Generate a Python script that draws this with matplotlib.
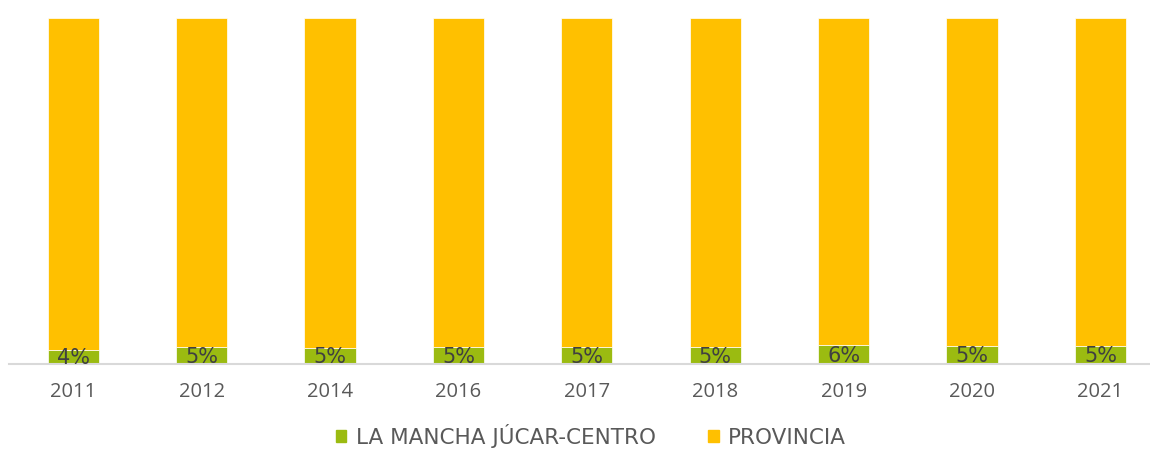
import matplotlib.pyplot as plt
from matplotlib.patches import Patch

years = ["2011", "2012", "2014", "2016", "2017", "2018", "2019", "2020", "2021"]
# share of the total (%)
mancha = [4.1, 4.8, 4.5, 4.9, 4.8, 4.8, 5.5, 5.1, 5.1]
mancha_labels = ["4%", "5%", "5%", "5%", "5%", "5%", "6%", "5%", "5%"]
provincia = [100 - v for v in mancha]

green = "#9BBB11"
yellow = "#FFC000"

plt.rcParams["font.family"] = ["Open Sans", "DejaVu Sans"]

fig = plt.figure(figsize=(11.5, 4.5), dpi=100)
ax = fig.add_axes([9 / 1150, 1 - 364 / 450, 1141 / 1150, 346 / 450])

x = list(range(len(years)))
ax.bar(x, mancha, width=0.4, color=green, edgecolor="white", linewidth=0.5)
ax.bar(x, provincia, width=0.4, bottom=mancha, color=yellow, edgecolor="white", linewidth=0.5)

for i in x:
    ax.text(i, mancha[i] / 2 - 0.3, mancha_labels[i], ha="center", va="center",
            fontsize=15, color="#404040", family="DejaVu Sans")

ax.set_xlim(-0.5, -0.5 + 1141 / 128.4)
ax.set_ylim(0, 100)
ax.set_xticks(x)
ax.set_xticklabels(years, fontsize=14.5, color="#595959")
ax.tick_params(axis="x", length=0, pad=13)
ax.set_yticks([])
for s in ["top", "right", "left"]:
    ax.spines[s].set_visible(False)
ax.spines["bottom"].set_color("#D9D9D9")
ax.spines["bottom"].set_linewidth(1.5)

handles = [Patch(color=green, label="LA MANCHA JÚCAR-CENTRO"),
           Patch(color=yellow, label="PROVINCIA")]
fig.legend(handles=handles, loc="center", bbox_to_anchor=(591 / 1150, 1 - 436 / 450),
           ncol=2, frameon=False, prop={"family": "DejaVu Sans", "size": 15.5},
           handlelength=0.5, handleheight=0.5,
           handletextpad=0.45, columnspacing=2.4, labelcolor="#595959",
           borderpad=0.05)

fig.savefig("out.png", dpi=100)
